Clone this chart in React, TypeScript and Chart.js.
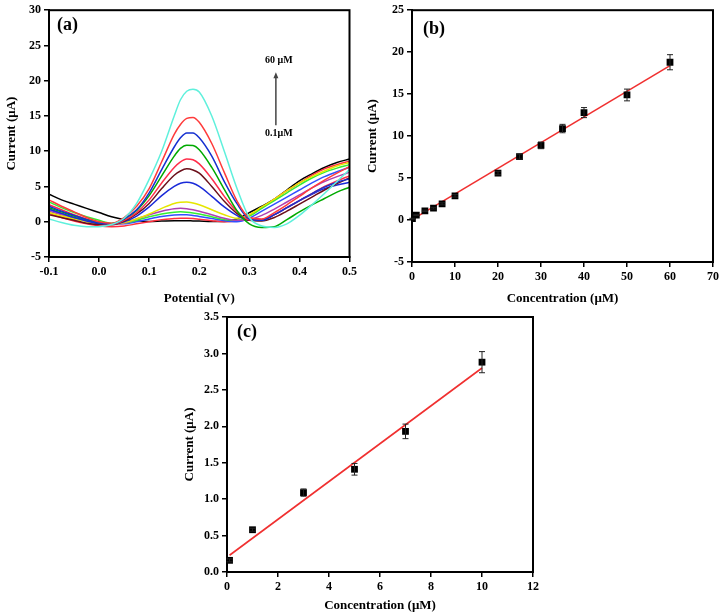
import React, { useEffect, useRef } from "react";
import { Chart, registerables } from "chart.js";
Chart.register(...registerables);

// ---------- Panel (a): DPV curves ----------
const potential = [-0.1, -0.075, -0.05, -0.025, 0, 0.025, 0.05, 0.075, 0.1, 0.125, 0.15, 0.1625, 0.175, 0.1875, 0.2, 0.225, 0.25, 0.275, 0.3, 0.325, 0.35, 0.375, 0.4, 0.425, 0.45, 0.475, 0.5];
const curve01 = [3.9, 3.1, 2.5, 1.9, 1.3, 0.7, 0.3, 0.1, 0.05, 0.1, 0.15, 0.15, 0.15, 0.12, 0.1, 0.05, 0.05, 0.4, 1.3, 2.2, 3.2, 4.5, 5.8, 6.8, 7.7, 8.4, 8.9];
const curve1 = [1.2, 0.6, 0.1, -0.3, -0.6, -0.7, -0.6, -0.3, 0.0, 0.3, 0.45, 0.5, 0.5, 0.45, 0.35, 0.15, 0.0, 0.1, 0.9, 2.0, 3.2, 4.4, 5.5, 6.6, 7.5, 8.1, 8.6];
const curve3 = [1.7, 1.1, 0.6, 0.2, -0.1, -0.3, -0.3, 0.0, 0.4, 0.75, 0.95, 1.0, 1.0, 0.9, 0.75, 0.45, 0.15, 0.0, 0.5, 1.5, 2.5, 3.5, 4.5, 5.5, 6.4, 7.1, 7.7];
const curve5 = [2.8, 2.0, 1.3, 0.7, 0.2, -0.2, -0.2, 0.2, 0.7, 1.1, 1.35, 1.4, 1.35, 1.25, 1.1, 0.7, 0.3, 0.2, 0.8, 1.9, 3.0, 4.1, 5.2, 6.2, 7.0, 7.6, 8.1];
const curve7 = [1.5, 1.0, 0.5, 0.1, -0.3, -0.4, -0.2, 0.4, 1.0, 1.5, 1.85, 1.9, 1.85, 1.7, 1.5, 1.0, 0.5, 0.2, 0.3, 0.9, 1.8, 2.8, 3.8, 4.8, 5.7, 6.4, 7.0];
const curve10 = [1.3, 0.8, 0.4, 0.0, -0.3, -0.4, -0.1, 0.4, 1.1, 1.9, 2.6, 2.75, 2.8, 2.65, 2.4, 1.7, 1.0, 0.5, 1.0, 2.1, 3.2, 4.4, 5.5, 6.4, 7.2, 7.9, 8.4];
const curve20 = [1.8, 1.2, 0.6, 0.1, -0.3, -0.4, 0.0, 0.8, 2.1, 3.7, 5.0, 5.45, 5.6, 5.45, 5.0, 3.6, 2.1, 0.9, 0.2, 0.3, 1.0, 2.0, 3.0, 3.9, 4.7, 5.2, 5.6];
const curve25 = [1.0, 0.6, 0.2, -0.2, -0.4, -0.4, 0.1, 1.1, 2.6, 4.7, 6.6, 7.2, 7.5, 7.35, 6.9, 5.0, 2.9, 1.2, 0.2, 0.1, 0.6, 1.5, 2.5, 3.5, 4.5, 5.4, 6.2];
const curve30 = [2.4, 1.7, 1.0, 0.4, -0.1, -0.4, 0.2, 1.3, 3.1, 5.5, 7.7, 8.5, 8.9, 8.8, 8.2, 6.1, 3.6, 1.5, 0.3, 0.3, 1.0, 2.0, 3.0, 4.0, 5.0, 5.8, 6.5];
const curve35 = [2.0, 1.4, 0.8, 0.3, -0.1, -0.3, 0.4, 1.6, 3.7, 6.5, 9.3, 10.4, 10.85, 10.8, 10.2, 7.7, 4.6, 1.6, -0.3, -0.8, -0.7, 0.3, 1.4, 2.4, 3.3, 4.2, 4.9];
const curve40 = [2.2, 1.5, 0.9, 0.3, -0.2, -0.3, 0.4, 1.7, 4.1, 7.4, 10.6, 11.9, 12.6, 12.6, 11.9, 9.3, 5.7, 2.6, 0.4, 0.2, 1.0, 2.0, 3.0, 4.0, 4.9, 5.6, 6.1];
const curve50 = [3.1, 2.2, 1.4, 0.6, 0.0, -0.2, 0.6, 2.2, 4.7, 8.5, 12.4, 13.8, 14.65, 14.8, 14.1, 11.1, 7.0, 3.0, 0.6, 0.4, 1.3, 2.4, 3.6, 4.8, 5.9, 6.9, 7.8];
const curve60 = [0.4, -0.1, -0.5, -0.7, -0.7, -0.4, 0.5, 2.6, 6.0, 10.0, 15.0, 17.3, 18.5, 18.8, 18.4, 15.0, 10.0, 4.8, 0.6, -0.6, -0.8, -0.3, 0.9, 2.4, 4.0, 5.7, 7.4];
const curvesA = [curve60, curve50, curve40, curve35, curve30, curve25, curve20, curve10, curve7, curve5, curve3, curve1, curve01];
const colorsA = ["#5ff0dc", "#ff3b3b", "#1530d0", "#00aa00", "#ff2e4a", "#6b0f1a", "#1a2ad8", "#e6e600", "#b040b0", "#33ee33", "#3050ff", "#ff3040", "#000000"];
const arrowX = 0.353;
const arrowFromY = 13.7;
const arrowToY = 21.2;
const arrowTopLabel = "60 μM";
const arrowBottomLabel = "0.1μM";

// ---------- Panel (b) ----------
const concB = [0.1, 1, 3, 5, 7, 10, 20, 25, 30, 35, 40, 50, 60];
const currentB = [0.16, 0.58, 1.09, 1.41, 1.93, 2.88, 5.6, 7.55, 8.9, 10.9, 12.8, 14.9, 18.8];
const errB = [0.05, 0.05, 0.08, 0.1, 0.12, 0.15, 0.2, 0.3, 0.4, 0.5, 0.6, 0.7, 0.9];
const fitBX = [0, 60];
const fitBY = [0.05, 18.4];

// ---------- Panel (c) ----------
const concC = [0.1, 1, 3, 5, 7, 10];
const currentC = [0.16, 0.58, 1.09, 1.41, 1.93, 2.88];
const errC = [0.02, 0.02, 0.05, 0.08, 0.1, 0.145];
const fitCX = [0.1, 10];
const fitCY = [0.23, 2.8];

const FAMILY = "'Liberation Serif', 'Times New Roman', serif";

const framePlugin = {
  id: "frame",
  afterDatasetsDraw(chart: any) {
    const { ctx, chartArea } = chart;
    const { left, top, right, bottom } = chartArea;
    ctx.save();
    ctx.strokeStyle = "#000";
    ctx.lineWidth = 2;
    ctx.strokeRect(left, top, right - left, bottom - top);
    ctx.restore();
  },
};

function labelPlugin(text: string, dx: number, dy: number) {
  return {
    id: "panelLabel",
    afterDraw(chart: any) {
      const { ctx, chartArea } = chart;
      ctx.save();
      ctx.fillStyle = "#000";
      ctx.font = `bold 18px ${FAMILY}`;
      ctx.textAlign = "left";
      ctx.textBaseline = "middle";
      ctx.fillText(text, chartArea.left + dx, chartArea.top + dy);
      ctx.restore();
    },
  };
}

function errorBarPlugin(xs: number[], ys: number[], errs: number[]) {
  return {
    id: "errorBars",
    afterDatasetsDraw(chart: any) {
      const { ctx } = chart;
      const sx = chart.scales.x;
      const sy = chart.scales.y;
      ctx.save();
      ctx.strokeStyle = "#222";
      ctx.lineWidth = 1;
      xs.forEach((xv, i) => {
        const px = sx.getPixelForValue(xv);
        const y1 = sy.getPixelForValue(ys[i] + errs[i]);
        const y2 = sy.getPixelForValue(ys[i] - errs[i]);
        ctx.beginPath();
        ctx.moveTo(px, y1);
        ctx.lineTo(px, y2);
        ctx.moveTo(px - 3, y1);
        ctx.lineTo(px + 3, y1);
        ctx.moveTo(px - 3, y2);
        ctx.lineTo(px + 3, y2);
        ctx.stroke();
      });
      ctx.restore();
    },
  };
}

const arrowPlugin = {
  id: "arrow",
  afterDatasetsDraw(chart: any) {
    const { ctx } = chart;
    const sx = chart.scales.x;
    const sy = chart.scales.y;
    const px = sx.getPixelForValue(arrowX);
    const yFrom = sy.getPixelForValue(arrowFromY);
    const yTo = sy.getPixelForValue(arrowToY);
    ctx.save();
    ctx.strokeStyle = "#444";
    ctx.fillStyle = "#444";
    ctx.lineWidth = 1.5;
    ctx.beginPath();
    ctx.moveTo(px, yFrom);
    ctx.lineTo(px, yTo + 4);
    ctx.stroke();
    ctx.beginPath();
    ctx.moveTo(px, yTo);
    ctx.lineTo(px - 2.5, yTo + 6);
    ctx.lineTo(px + 2.5, yTo + 6);
    ctx.closePath();
    ctx.fill();
    ctx.fillStyle = "#000";
    ctx.font = `bold 10px ${FAMILY}`;
    ctx.textAlign = "center";
    ctx.textBaseline = "middle";
    ctx.fillText(arrowTopLabel, px + 3, yTo - 12);
    ctx.fillText(arrowBottomLabel, px + 3, yFrom + 8);
    ctx.restore();
  },
};

function fmt(v: any, digits: number) {
  const n = Number(v);
  const s = (Math.abs(n) < 1e-9 ? 0 : n).toFixed(digits);
  return s;
}

function scaleOpts(opts: {
  min: number; max: number; step: number; title: string; fixed: number; isY: boolean; digits: number; titlePad?: number;
}) {
  return {
    type: "linear",
    min: opts.min,
    max: opts.max,
    position: opts.isY ? "left" : "bottom",
    afterFit(scale: any) {
      if (opts.isY) scale.width = opts.fixed;
      else scale.height = opts.fixed;
    },
    ticks: {
      stepSize: opts.step,
      autoSkip: false,
      maxRotation: 0,
      padding: 3,
      color: "#000",
      font: { family: FAMILY, size: 12, weight: "bold" },
      callback: (v: any) => fmt(v, opts.digits),
    },
    grid: {
      drawOnChartArea: false,
      drawTicks: true,
      tickLength: 5,
      color: "#000",
      lineWidth: 1.5,
    },
    border: { display: true, color: "#000", width: 2 },
    title: {
      display: true,
      text: opts.title,
      color: "#000",
      font: { family: FAMILY, size: 13, weight: "bold" },
      padding: opts.isY
        ? { top: opts.titlePad ?? 4, bottom: 4 }
        : { top: 4, bottom: opts.titlePad ?? 4 },
    },
  };
}

function makeA() {
  return {
    type: "line",
    data: {
      datasets: curvesA.map((ys, i) => ({
        data: ys.map((y, j) => ({ x: potential[j], y })),
        borderColor: colorsA[i],
        borderWidth: 1.5,
        pointRadius: 0,
        fill: false,
        cubicInterpolationMode: "monotone",
      })),
    },
    options: {
      responsive: false,
      animation: false,
      devicePixelRatio: 1,
      layout: { padding: { top: 10, right: 9, left: 0, bottom: 0 } },
      plugins: { legend: { display: false }, tooltip: { enabled: false } },
      scales: {
        x: scaleOpts({ min: -0.1, max: 0.5, step: 0.1, title: "Potential (V)", fixed: 53, isY: false, digits: 1 }),
        y: scaleOpts({ min: -5, max: 30, step: 5, title: "Current (μA)", fixed: 49, isY: true, digits: 0 }),
      },
    },
    plugins: [framePlugin, arrowPlugin, labelPlugin("(a)", 8, 15)],
  };
}

function makeScatter(
  xs: number[], ys: number[], errs: number[], fx: number[], fy: number[],
  xr: [number, number, number], yr: [number, number, number], yDigits: number,
  pad: any, xFixed: number, yFixed: number, label: string, ldx: number, ldy: number, xTitlePad: number, yTitlePad: number
) {
  return {
    type: "scatter",
    data: {
      datasets: [
        {
          data: xs.map((x, i) => ({ x, y: ys[i] })),
          pointStyle: "rect",
          pointRadius: 4.8,
          backgroundColor: "#000",
          borderColor: "#000",
          borderWidth: 0,
          showLine: false,
        },
        {
          data: fx.map((x, i) => ({ x, y: fy[i] })),
          showLine: true,
          borderColor: "#f03030",
          borderWidth: 1.6,
          pointRadius: 0,
        },
      ],
    },
    options: {
      responsive: false,
      animation: false,
      devicePixelRatio: 1,
      layout: { padding: pad },
      plugins: { legend: { display: false }, tooltip: { enabled: false } },
      scales: {
        x: scaleOpts({ min: xr[0], max: xr[1], step: xr[2], title: "Concentration (μM)", fixed: xFixed, isY: false, digits: 0, titlePad: xTitlePad }),
        y: scaleOpts({ min: yr[0], max: yr[1], step: yr[2], title: "Current (μA)", fixed: yFixed, isY: true, digits: yDigits, titlePad: yTitlePad }),
      },
    },
    plugins: [framePlugin, errorBarPlugin(xs, ys, errs), labelPlugin(label, ldx, ldy)],
  };
}

function makeB() {
  return makeScatter(concB, currentB, errB, fitBX, fitBY, [0, 70, 10], [-5, 25, 5], 0,
    { top: 6, right: 8, left: 0, bottom: 0 }, 48, 52, "(b)", 11, 19, 4, 5);
}

function makeC() {
  return makeScatter(concC, currentC, errC, fitCX, fitCY, [0, 12, 2], [0, 3.5, 0.5], 1,
    { top: 17, right: 47, left: 0, bottom: 0 }, 43, 47, "(c)", 10, 15, 2, 2);
}

function ChartBox(props: { left: number; top: number; width: number; height: number; make: () => any }) {
  const ref = useRef<HTMLCanvasElement | null>(null);
  useEffect(() => {
    const chart = new Chart(ref.current as HTMLCanvasElement, props.make());
    return () => chart.destroy();
  }, []);
  return (
    <div style={{ position: "absolute", left: props.left, top: props.top, width: props.width, height: props.height }}>
      <canvas ref={ref} width={props.width} height={props.height} style={{ display: "block" }} />
    </div>
  );
}

export default function App() {
  return (
    <div style={{ position: "absolute", left: 0, top: 0, width: 722, height: 615, background: "#fff" }}>
      <ChartBox left={0} top={0} width={360} height={310} make={makeA} />
      <ChartBox left={360} top={0} width={362} height={310} make={makeB} />
      <ChartBox left={180} top={300} width={400} height={315} make={makeC} />
    </div>
  );
}
